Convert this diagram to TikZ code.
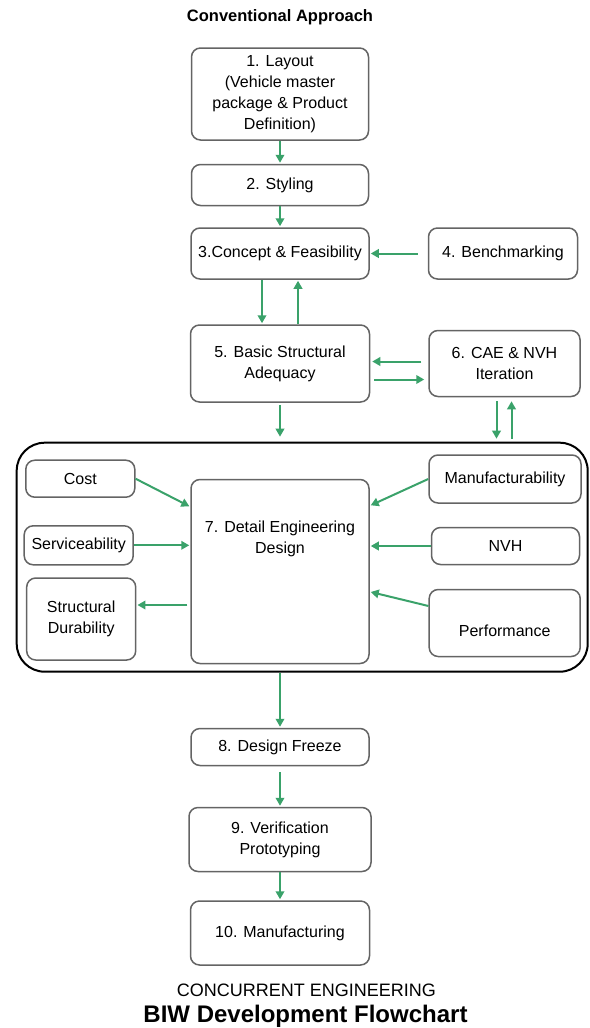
\documentclass[tikz,border=0pt]{standalone}
\usepackage{fontspec}
\setmainfont{Liberation Sans}
\usetikzlibrary{arrows.meta, positioning, calc}

\definecolor{flowgreen}{RGB}{58,162,106}
\definecolor{boxgray}{RGB}{100,100,100}

\begin{document}
\begin{tikzpicture}[x=1pt,y=-1pt,>={Triangle[length=8pt,width=8.5pt]},shorten >=1pt,
    stage/.style={draw=boxgray, line width=1.5pt, rounded corners=9pt, align=center,
        inner sep=2pt, font=\fontsize{16}{21}\selectfont},
    frame/.style={draw=black, line width=2pt, rounded corners=28pt},
    flow/.style={->, color=flowgreen, line width=2pt}]

    \useasboundingbox (0,0) rectangle (589,1028);

    \node[font=\bfseries\fontsize{16.5}{20}\selectfont] (title) at (280,17) {Conventional Approach};

    % main column
    \node[stage, minimum width=177pt, minimum height=92pt] (1) at (280,94)
        {1. Layout\\(Vehicle master\\package \& Product\\Definition)};
    \node[stage, minimum width=177pt, minimum height=41pt] (2) [below=23pt of 1] {2. Styling};
    \node[stage, minimum width=178pt, minimum height=51pt] (3) [below=21pt of 2] {3.Concept \& Feasibility};
    \node[stage, minimum width=149pt, minimum height=51pt] (4) [right=58pt of 3] {4. Benchmarking};
    \node[stage, minimum width=179pt, minimum height=77pt] (5) [below=44.5pt of 3] {5. Basic Structural\\Adequacy};
    \node[stage, minimum width=151pt, minimum height=66pt] (6) [right=58pt of 5] {6. CAE \& NVH\\Iteration};

    % concurrent block
    \node[frame, minimum width=571pt, minimum height=229pt] (frame) at (302.2,557.2) {};
    \node[stage, minimum width=178pt, minimum height=184pt, text depth=69pt] (7) [below=76pt of 5]
        {7. Detail Engineering\\Design};
    \node[stage, minimum width=109pt, minimum height=37pt] (cost) at (80.3,478.7) {Cost};
    \node[stage, minimum width=109pt, minimum height=39pt] (serv) at (78.7,545.3) {Serviceability};
    \node[stage, minimum width=109pt, minimum height=82pt] (dura) at (81.2,619) {Structural\\Durability};
    \node[stage, minimum width=152pt, minimum height=48pt] (manu) at (505,479) {Manufacturability};
    \node[stage, minimum width=148pt, minimum height=37pt] (nvh) at (505.5,546) {NVH};
    \node[stage, minimum width=151pt, minimum height=67pt, text height=26pt, text depth=0pt] (perf)
        at (504.7,623) {Performance};

    \node[stage, minimum width=178pt, minimum height=37pt] (8) [below=63.5pt of 7] {8. Design Freeze};
    \node[stage, minimum width=182pt, minimum height=64pt] (9) [below=40.5pt of 8] {9. Verification\\Prototyping};
    \node[stage, minimum width=179pt, minimum height=64pt] (10) [below=28pt of 9] {10. Manufacturing};

    \node[font=\fontsize{18}{20}\selectfont] (sub) at (306.5,990) {CONCURRENT ENGINEERING};
    \node[font=\bfseries\fontsize{24}{26}\selectfont] (name) at (305.5,1016) {BIW Development Flowchart};

    \path[flow]
    (1) edge (2)
    (2) edge (3)
    (4) edge [shorten <=10pt] (3)
    ($(3.south)+(-18,0)$) edge ($(5.north)+(-18,0)$)
    ($(5.north)+(18,0)$) edge ($(3.south)+(18,0)$)
    ($(6.west)+(0,-2)$) edge [shorten <=7pt, shorten >=2pt] ($(6.west -| 5.east)+(0,-2)$)
    ($(5.east)+(0,16)$) edge [shorten <=4pt, shorten >=4pt] ($(5.east -| 6.west)+(0,16)$)
    (5) edge [shorten <=2pt, shorten >=5pt] (5.south |- frame.north)
    ($(6.south)+(-8,0)$) edge [shorten <=4pt, shorten >=3pt] ($(6.south |- frame.north)+(-8,0)$)
    ($(6.south |- frame.north)+(7,0)$) edge [shorten <=3pt, shorten >=4pt] ($(6.south)+(7,0)$)
    ;

    \path[flow]
    (cost.east) edge ([yshift=-28pt]7.north west)
    (serv) edge (serv -| 7.west)
    ($(7.west |- dura.east)+(0,-14)$) edge [shorten <=3pt] ($(dura.east)+(0,-14)$)
    (manu.west) edge ([yshift=-27pt]7.north east)
    (nvh) edge (nvh -| 7.east)
    ([yshift=17pt]perf.west) edge ([yshift=-113pt]7.north east)
    ;

    \path[flow]
    (8.north |- frame.south) edge (8)
    (8) edge [shorten <=6pt] (9)
    (9) edge (10)
    ;
\end{tikzpicture}
\end{document}
